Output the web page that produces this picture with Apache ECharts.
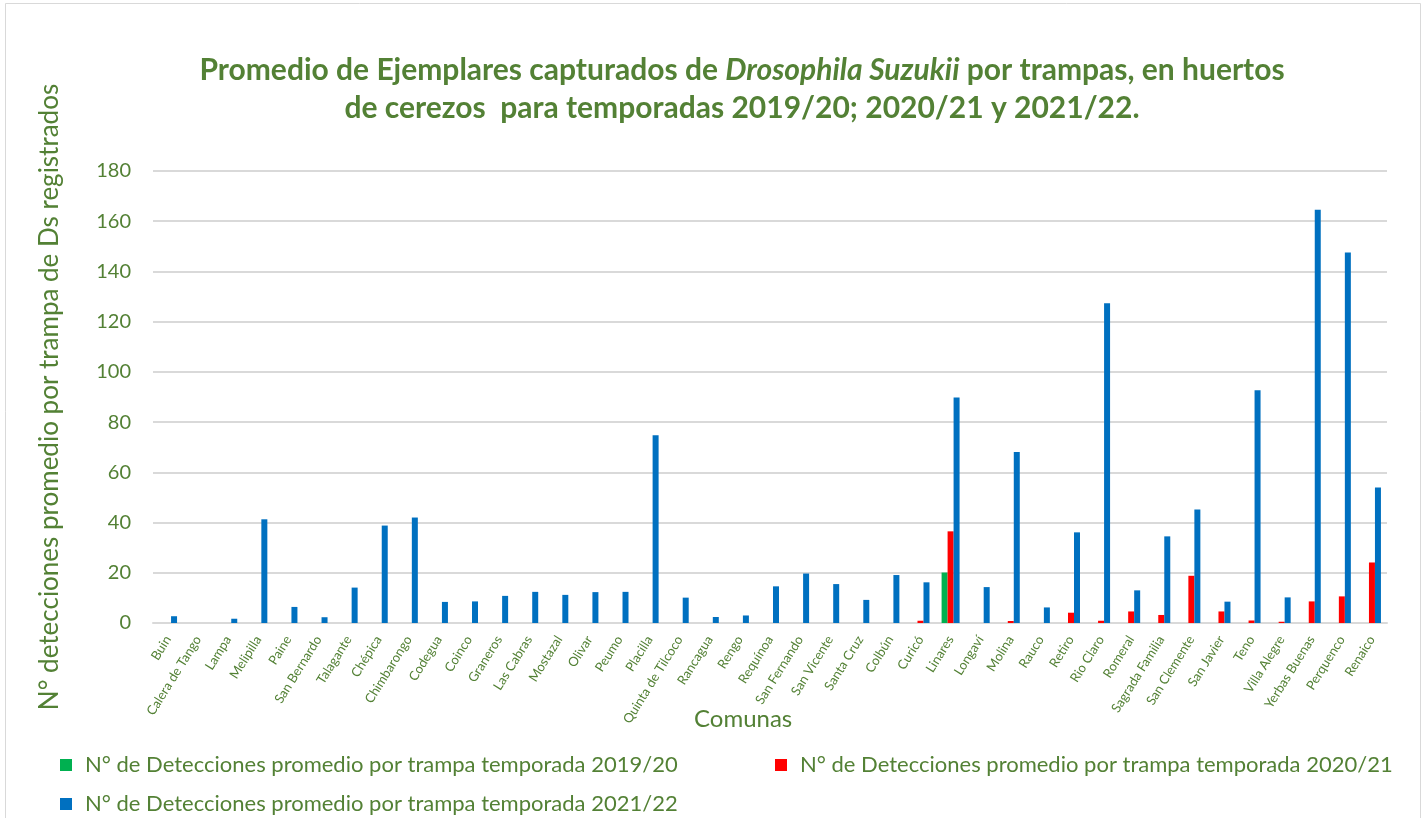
<!DOCTYPE html>
<html>
<head>
<meta charset="utf-8">
<script src="https://cdn.jsdelivr.net/npm/echarts@6/dist/echarts.min.js"></script>
<style>
  html, body { margin: 0; padding: 0; background: #fff; }
  #chart { width: 1427px; height: 818px; }
</style>
</head>
<body>
<div id="chart"></div>
<script>
// comunas
const comunas = [
  "Buin", "Calera de Tango", "Lampa", "Melipilla", "Paine", "San Bernardo", "Talagante",
  "Chépica", "Chimbarongo", "Codegua", "Coinco", "Graneros", "Las Cabras", "Mostazal",
  "Olivar", "Peumo", "Placilla", "Quinta de Tilcoco", "Rancagua", "Rengo", "Requínoa",
  "San Fernando", "San Vicente", "Santa Cruz", "Colbún", "Curicó", "Linares", "Longaví",
  "Molina", "Rauco", "Retiro", "Rio Claro", "Romeral", "Sagrada Familia", "San Clemente",
  "San Javier", "Teno", "Villa Alegre", "Yerbas Buenas", "Perquenco", "Renaico"
];

// temporada 2019/20
const temp1920 = [
  0, 0, 0, 0, 0, 0, 0, 0, 0, 0, 0, 0, 0, 0, 0, 0, 0, 0, 0, 0, 0,
  0, 0, 0, 0, 0, 20.1, 0, 0, 0, 0, 0, 0, 0, 0, 0, 0, 0, 0, 0, 0
];

// temporada 2020/21
const temp2021 = [
  0, 0, 0, 0, 0, 0, 0, 0, 0, 0, 0, 0, 0, 0, 0, 0, 0, 0, 0, 0, 0,
  0, 0, 0, 0, 0.9, 36.5, 0, 0.8, 0, 4.1, 0.9, 4.6, 3.2, 18.8,
  4.6, 1.0, 0.5, 8.6, 10.6, 24.1
];

// temporada 2021/22
const temp2122 = [
  2.7, 0, 1.7, 41.3, 6.4, 2.3, 14.1, 38.8, 42, 8.4, 8.6, 10.8, 12.4, 11.2,
  12.3, 12.4, 74.8, 10.1, 2.4, 3.0, 14.6, 19.7, 15.5, 9.2, 19.1, 16.2, 89.8,
  14.3, 68.1, 6.2, 36.1, 127.3, 13.0, 34.5, 45.2, 8.5, 92.7, 10.2, 164.6, 147.5, 54
];

const yTicks = [0, 180, 20]; // min, max, interval

const nombres = [
  "N° de Detecciones promedio por trampa temporada 2019/20",
  "N° de Detecciones promedio por trampa temporada 2020/21",
  "N° de Detecciones promedio por trampa temporada 2021/22"
];

const verde = "#538135";
const fuente = "Lato";

const chart = echarts.init(document.getElementById("chart"), null, { renderer: "canvas" });

function leyenda(nombre, left, top) {
  return {
    data: [nombre],
    left: left,
    top: top,
    itemWidth: 12,
    itemHeight: 12,
    icon: "rect",
    textStyle: { color: verde, fontSize: 22, fontFamily: fuente, padding: [0, 0, 0, 8] }
  };
}

function serie(nombre, datos, color) {
  return {
    name: nombre,
    type: "bar",
    data: datos,
    barWidth: 6,
    barGap: "0%",
    itemStyle: { color: color },
    emphasis: { disabled: true }
  };
}

chart.setOption({
  animation: false,
  backgroundColor: "#fff",
  title: {
    text: "Promedio de Ejemplares capturados de {i|Drosophila Suzukii} por trampas, en huertos\nde cerezos  para temporadas 2019/20; 2020/21 y 2021/22.",
    left: 737,
    textAlign: "center",
    top: 46,
    textStyle: {
      color: verde,
      fontSize: 30,
      fontWeight: "bold",
      fontFamily: fuente,
      lineHeight: 38,
      rich: {
        i: { fontStyle: "italic", fontWeight: "bold", fontSize: 30, color: verde, fontFamily: fuente }
      }
    }
  },
  legend: [
    leyenda(nombres[0], 55, 749),
    leyenda(nombres[1], 770, 749),
    leyenda(nombres[2], 55, 788)
  ],
  grid: { left: 153, right: 40, top: 171, bottom: 195 },
  xAxis: {
    type: "category",
    data: comunas,
    axisLine: { lineStyle: { color: "#d9d9d9", width: 2 } },
    axisTick: { show: false },
    axisLabel: {
      interval: 0,
      rotate: 58,
      color: verde,
      fontSize: 13,
      fontFamily: fuente,
      margin: 14
    }
  },
  yAxis: {
    type: "value",
    min: yTicks[0],
    max: yTicks[1],
    interval: yTicks[2],
    name: "N° detecciones promedio por trampa de Ds registrados",
    nameLocation: "middle",
    nameGap: 90,
    nameTextStyle: { color: verde, fontSize: 26, fontFamily: fuente },
    axisLine: { show: false },
    axisTick: { show: false },
    axisLabel: { color: verde, fontSize: 20, fontFamily: fuente, margin: 22 },
    splitLine: { lineStyle: { color: "#d9d9d9", width: 2 } }
  },
  graphic: [
    {
      type: "text",
      left: 694,
      top: 707,
      style: { text: "Comunas", fill: verde, font: "24px " + fuente }
    },
    {
      type: "rect",
      shape: { x: 5.5, y: 3.5, width: 1415, height: 830 },
      style: { fill: "none", stroke: "#d9d9d9", lineWidth: 1 },
      silent: true
    }
  ],
  series: [
    serie(nombres[0], temp1920, "#00b050"),
    serie(nombres[1], temp2021, "#ff0000"),
    serie(nombres[2], temp2122, "#0070c0")
  ]
});
</script>
</body>
</html>
